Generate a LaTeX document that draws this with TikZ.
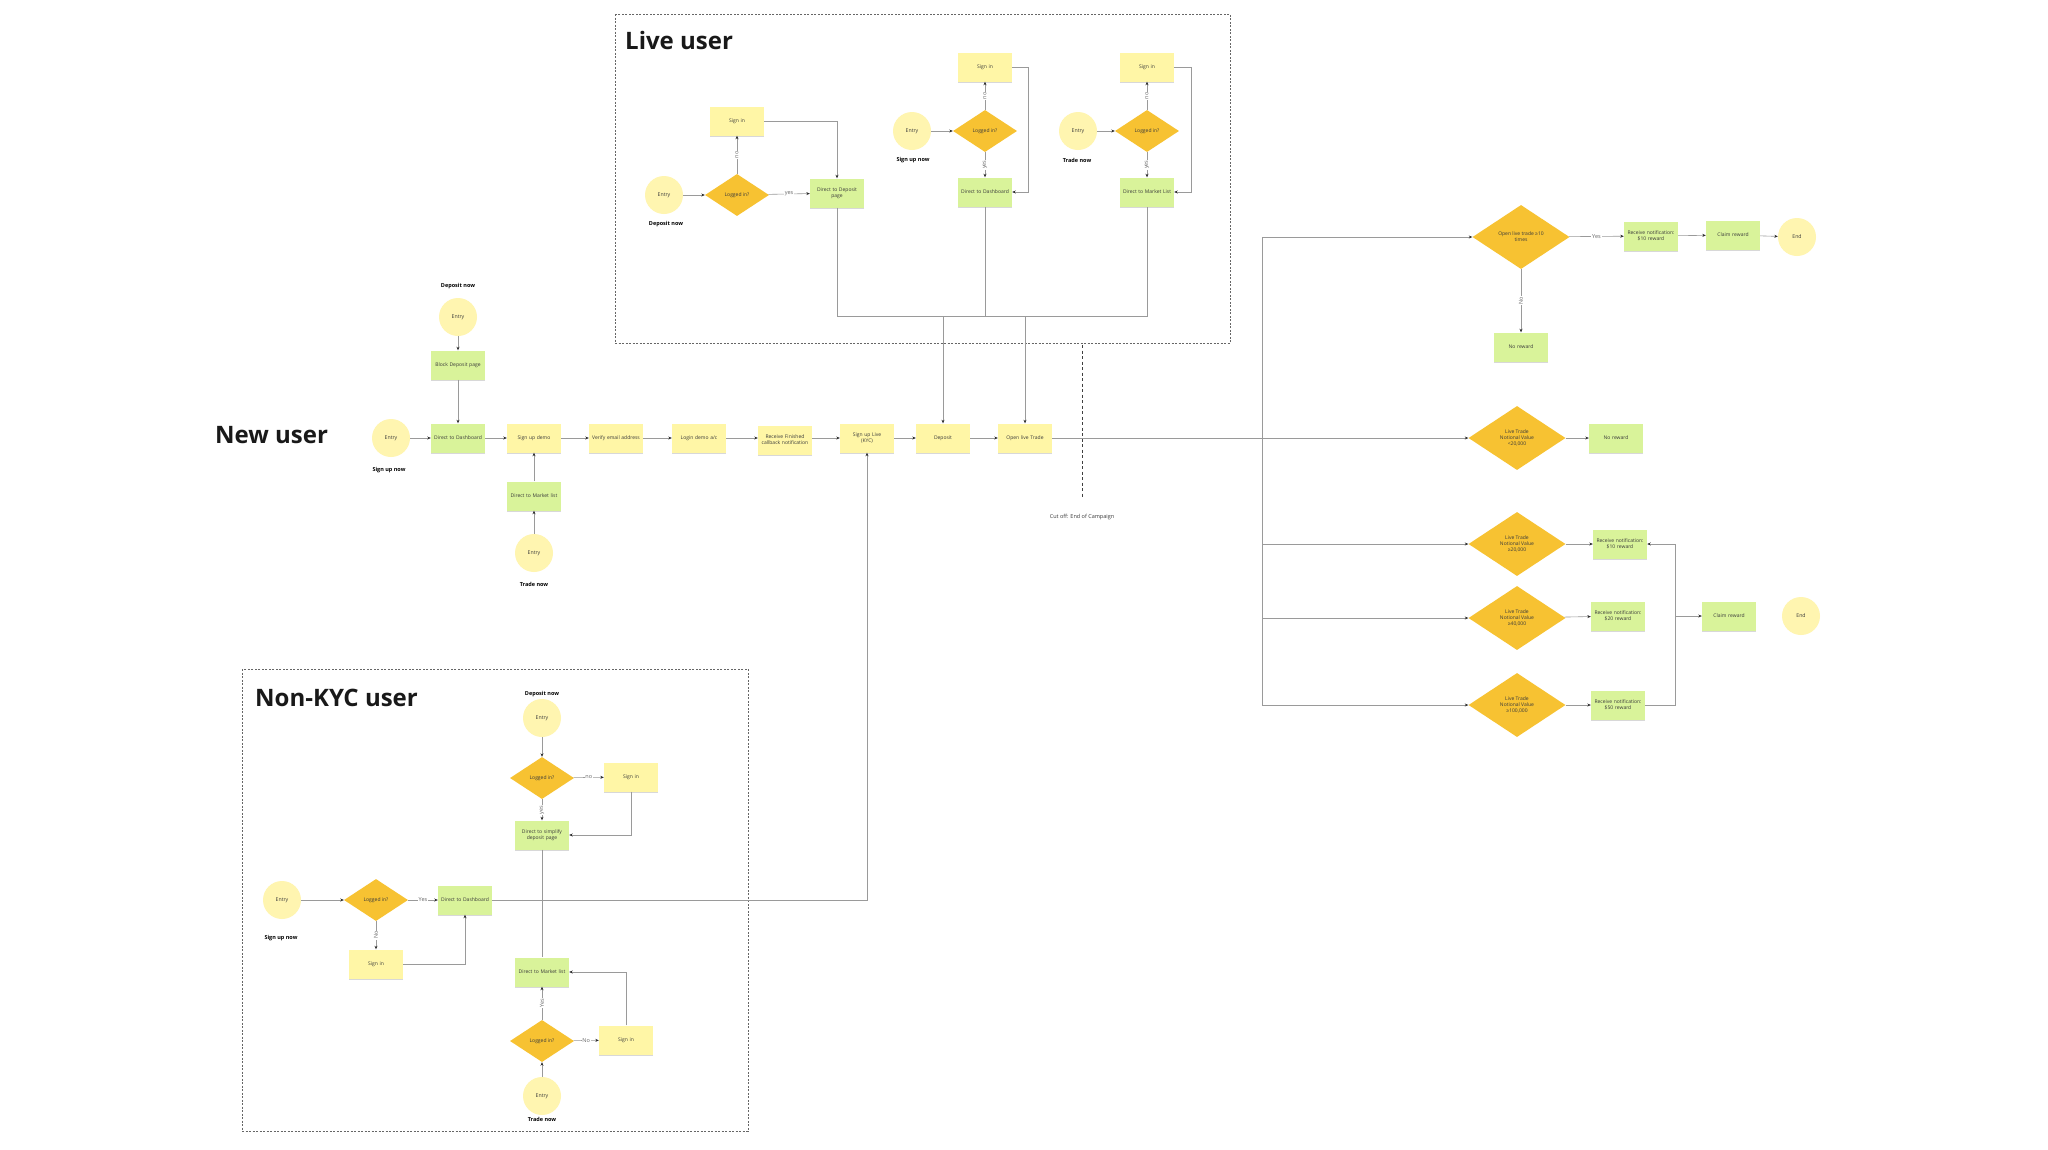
\documentclass[tikz,border=0pt]{standalone}
\usepackage{fontspec}
\setmainfont{Open Sans}
\usetikzlibrary{shapes.geometric,shadows,arrows.meta}
\definecolor{stkY}{HTML}{FFF6A6}
\definecolor{stkG}{HTML}{D9F39A}
\definecolor{decO}{HTML}{F7C232}
\definecolor{entY}{HTML}{FFF5B0}
\definecolor{lineG}{HTML}{9A9A9A}
\definecolor{txtD}{HTML}{3A3A3A}
\begin{document}
\begin{tikzpicture}[x=1pt,y=-1pt,
  every node/.style={text=txtD},
  sticky/.style={rectangle, fill=stkY, minimum width=54pt, minimum height=29pt, text width=49pt, align=center, inner sep=1pt, font=\fontsize{5}{6}\selectfont, drop shadow={shadow xshift=0pt, shadow yshift=-1.6pt, opacity=0.3}},
  gsticky/.style={sticky, fill=stkG},
  entry/.style={circle, fill=entY, minimum size=38pt, inner sep=0pt, font=\fontsize{5.2}{6}\selectfont},
  dec/.style={diamond, fill=decO, minimum width=64pt, minimum height=42pt, inner sep=0pt, align=center, font=\fontsize{5}{6}\selectfont},
  bigdec/.style={dec, minimum width=97pt, minimum height=64pt},
  capl/.style={font=\bfseries\fontsize{5.5}{6.5}\selectfont, text=black},
  ttl/.style={font=\bfseries\fontsize{24}{28}\selectfont, text=black!90, anchor=base west, inner sep=0pt},
  conn/.style={draw=lineG, line width=0.6pt},
  arr/.style={conn, -{Stealth[length=3.5pt,width=3pt,color=gray!35!black]}},
  lbl/.style={fill=white, inner sep=0.8pt, font=\fontsize{5.5}{6.5}\selectfont, text=gray!80!black},
  boxframe/.style={draw=gray!80!black, dash pattern=on 2pt off 1.5pt, line width=0.6pt}
]
\fill[white] (0,0) rectangle (2048,1149);
\useasboundingbox (0,0) rectangle (2048,1149);

% ---------- Live user ----------
\draw[boxframe] (615,14) rectangle (1230,343);
\node[ttl] (tLive) at (625,49) {Live user};

\node[entry] (L1e) at (664,195) {Entry};
\node[capl] (L1c) at (666,224) {Deposit now};
\node[dec] (L1d) at (737,195) {Logged in?};
\node[sticky] (L1s) at (737,121) {Sign in};
\node[gsticky] (L1p) at (837,193) {Direct to Deposit\\page};
\draw[arr] (L1e) -- (L1d);
\draw[arr] (L1d) -- node[lbl,rotate=90]{no} (L1s);
\draw[arr] (L1d) -- node[lbl]{yes} (L1p);
\draw[arr] (L1s.east) -| (L1p.north);

\node[entry] (L2e) at (912,131) {Entry};
\node[capl] (L2c) at (913,160) {Sign up now};
\node[dec] (L2d) at (985,131) {Logged in?};
\node[sticky] (L2s) at (985,67) {Sign in};
\node[gsticky] (L2p) at (985,192) {Direct to Dashboard};
\draw[arr] (L2e) -- (L2d);
\draw[arr] (L2d) -- node[lbl,rotate=90]{no} (L2s);
\draw[arr] (L2d) -- node[lbl,rotate=90]{yes} (L2p);
\draw[arr] (L2s.east) -- (1028,67) |- (L2p.east);

\node[entry] (L3e) at (1078,131) {Entry};
\node[capl] (L3c) at (1077,160) {Trade now};
\node[dec] (L3d) at (1147,131) {Logged in?};
\node[sticky] (L3s) at (1147,67) {Sign in};
\node[gsticky] (L3p) at (1147,192) {Direct to Market List};
\draw[arr] (L3e) -- (L3d);
\draw[arr] (L3d) -- node[lbl,rotate=90]{no} (L3s);
\draw[arr] (L3d) -- node[lbl,rotate=90]{yes} (L3p);
\draw[arr] (L3s.east) -- (1191,67) |- (L3p.east);

% ---------- New user ----------
\node[ttl] (tNew) at (215,443) {New user};
\node[entry] (N1) at (391,438) {Entry};
\node[capl] (N1c) at (389,470) {Sign up now};
\node[gsticky] (N2) at (458,438) {Direct to Dashboard};
\node[entry] (Nd) at (458,317) {Entry};
\node[capl] (Ndc) at (458,286) {Deposit now};
\node[gsticky] (Nb) at (458,365) {Block Deposit page};
\node[sticky] (N3) at (534,438) {Sign up demo};
\node[gsticky] (Nm) at (534,496) {Direct to Market list};
\node[entry] (Nt) at (534,553) {Entry};
\node[capl] (Ntc) at (534,584) {Trade now};
\node[sticky] (N4) at (616,438) {Verify email address};
\node[sticky] (N5) at (699,438) {Login demo a/c};
\node[sticky] (N6) at (785,440) {Receive Finished\\callback notification};
\node[sticky] (N7) at (867,438) {Sign up Live\\(KYC)};
\node[sticky] (N8) at (943,438) {Deposit};
\node[sticky] (N9) at (1025,438) {Open live Trade};
\draw[arr] (N1) -- (N2);
\draw[arr] (Nd) -- (Nb);
\draw[arr] (Nb) -- (N2);
\draw[arr] (N2) -- (N3);
\draw[arr] (Nt) -- (Nm);
\draw[arr] (Nm) -- (N3);
\draw[arr] (N3) -- (N4);
\draw[arr] (N4) -- (N5);
\draw[arr] (N5.east) -- (N6.west |- N5.east);
\draw[arr] (N6.east |- N7.west) -- (N7.west);
\draw[arr] (N7) -- (N8);
\draw[arr] (N8) -- (N9);

% Live user -> main row
\draw[conn] (L1p.south) -- (837,316) -- (1147,316) -- (L3p.south);
\draw[conn] (L2p.south) -- (985,316);
\draw[arr] (N8.north |- 0,316) -- (N8.north);
\draw[arr] (N9.north |- 0,316) -- (N9.north);

% cut off
\draw[draw=gray!50!black, dash pattern=on 3pt off 2.5pt, line width=0.9pt] (1082,345) -- (1082,498);
\node[font=\fontsize{5.5}{6.5}\selectfont] (cut) at (1082,517) {Cut off: End of Campaign};

% ---------- Right side ----------
\node[bigdec] (R1) at (1521,237) {Open live trade ≥10\\times};
\node[gsticky] (R1a) at (1651,236) {Receive notification:\\\$10 reward};
\node[gsticky] (R1b) at (1733,235) {Claim reward};
\node[entry] (R1c) at (1797,237) {End};
\node[gsticky] (R1n) at (1521,347) {No reward};

\node[bigdec] (R2) at (1517,438) {Live Trade\\Notional Value\\<20,000};
\node[gsticky] (R2a) at (1616,438) {No reward};
\node[bigdec] (R3) at (1517,544) {Live Trade\\Notional Value\\≥20,000};
\node[gsticky] (R3a) at (1620,544) {Receive notification:\\\$10 reward};
\node[bigdec] (R4) at (1517,618) {Live Trade\\Notional Value\\≥40,000};
\node[gsticky] (R4a) at (1618,616) {Receive notification:\\\$20 reward};
\node[bigdec] (R5) at (1517,705) {Live Trade\\Notional Value\\≥100,000};
\node[gsticky] (R5a) at (1618,705) {Receive notification:\\\$50 reward};
\node[gsticky] (Rc) at (1729,616) {Claim reward};
\node[entry] (Re) at (1801,616) {End};

\draw[conn] (N9.east) -- (R2.west -| 1262,0);
\draw[conn] (R1.west -| 1262,0) -- (R5.west -| 1262,0);
\draw[arr] (R1.west -| 1262,0) -- (R1.west);
\draw[arr] (R2.west -| 1262,0) -- (R2.west);
\draw[arr] (R3.west -| 1262,0) -- (R3.west);
\draw[arr] (R4.west -| 1262,0) -- (R4.west);
\draw[arr] (R5.west -| 1262,0) -- (R5.west);
\draw[arr] (R1) -- node[lbl]{Yes} (R1a);
\draw[arr] (R1a) -- (R1b);
\draw[arr] (R1b) -- (R1c);
\draw[arr] (R1) -- node[lbl,rotate=90]{No} (R1n);
\draw[arr] (R2) -- (R2a);
\draw[arr] (R3) -- (R3a);
\draw[arr] (R4) -- (R4a);
\draw[arr] (R5) -- (R5a);
\draw[conn] (R5a.east) -- (1675,705) -- (1675,544);
\draw[arr] (1675,544) -- (R3a.east);
\draw[arr] (1675,616) -- (Rc.west);

% ---------- Non-KYC user ----------
\draw[boxframe] (242,669) rectangle (748,1131);
\node[ttl] (tKyc) at (255,706) {Non-KYC user};

\node[capl] (K1c) at (542,694) {Deposit now};
\node[entry] (K1e) at (542,718) {Entry};
\node[dec] (K1d) at (542,778) {Logged in?};
\node[sticky] (K1s) at (631,777) {Sign in};
\node[gsticky] (K1p) at (542,835) {Direct to simplify\\deposit page};
\draw[arr] (K1e) -- (K1d);
\draw[arr] (K1d) -- node[lbl]{no} (K1s);
\draw[arr] (K1d) -- node[lbl,rotate=90]{yes} (K1p);
\draw[arr] (K1s.south) |- (K1p.east);

\node[entry] (K2e) at (282,900) {Entry};
\node[capl] (K2c) at (281,938) {Sign up now};
\node[dec] (K2d) at (376,900) {Logged in?};
\node[gsticky] (K2p) at (465,900) {Direct to Dashboard};
\node[sticky] (K2s) at (376,964) {Sign in};
\draw[arr] (K2e) -- (K2d);
\draw[arr] (K2d) -- node[lbl]{Yes} (K2p);
\draw[arr] (K2d) -- node[lbl,rotate=90]{No} (K2s);
\draw[arr] (K2s.east) -| (K2p.south);

\node[gsticky] (K3p) at (542,972) {Direct to Market list};
\node[dec] (K3d) at (542,1041) {Logged in?};
\node[sticky] (K3s) at (626,1040) {Sign in};
\node[entry] (K3e) at (542,1096) {Entry};
\node[capl] (K3c) at (542,1119) {Trade now};
\draw[conn] (K1p.south) -- (K3p.north);
\draw[arr] (K3e) -- (K3d);
\draw[arr] (K3d) -- node[lbl,rotate=90]{Yes} (K3p);
\draw[arr] (K3d) -- node[lbl]{No} (K3s);
\draw[arr] (K3s.north) |- (K3p.east);

\draw[arr] (K2p.east) -| (N7.south);
\end{tikzpicture}
\end{document}
